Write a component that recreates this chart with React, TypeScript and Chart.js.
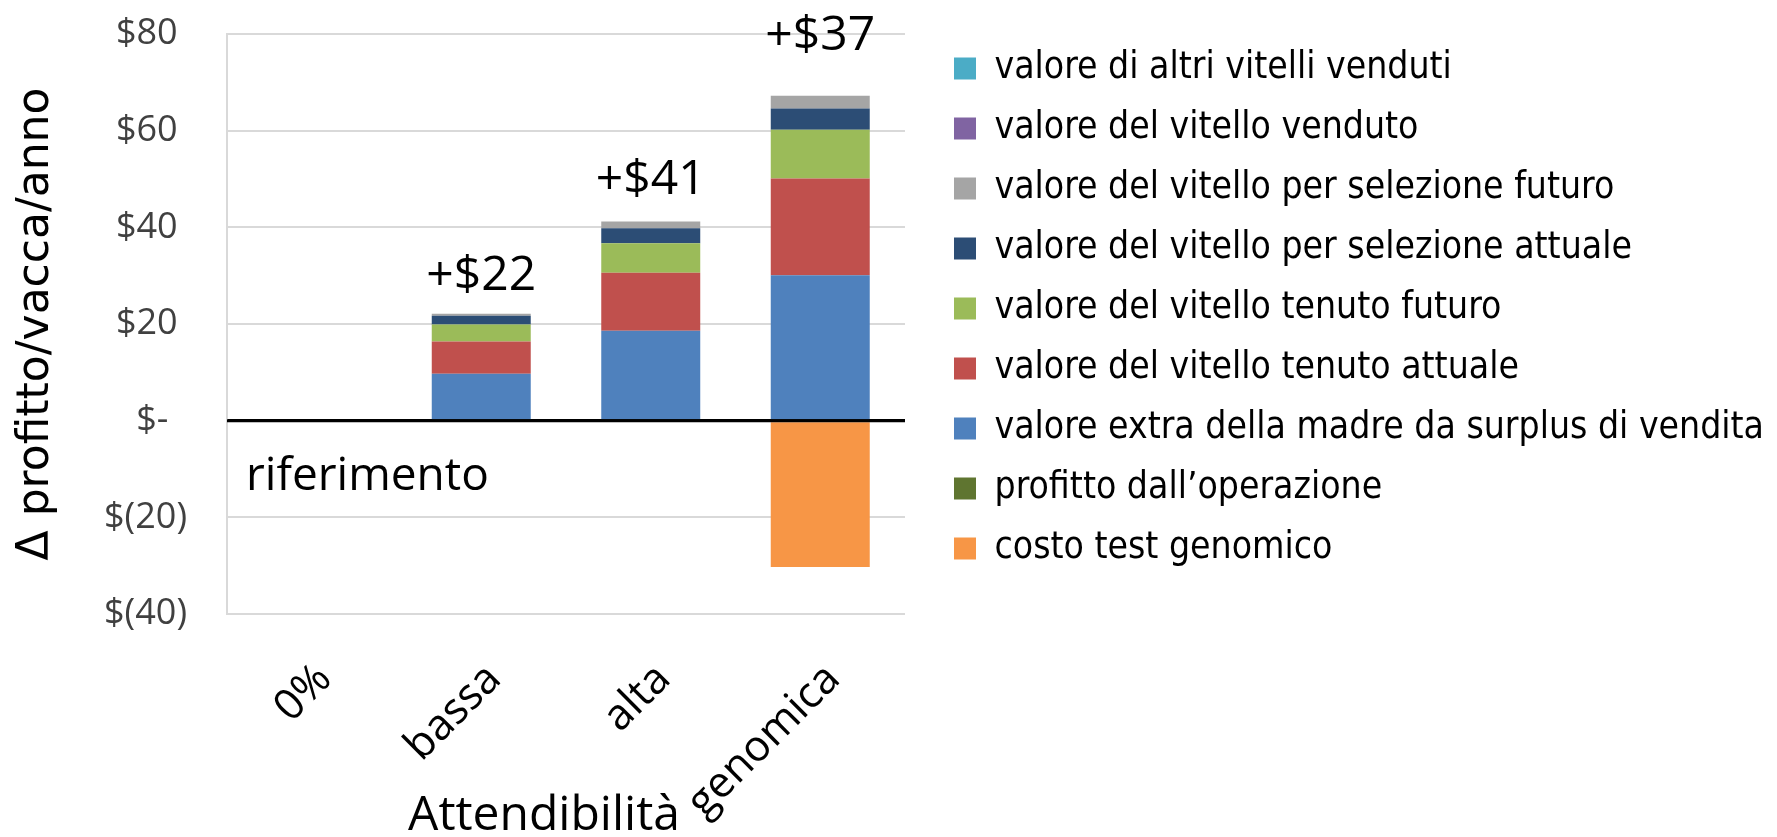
import React, { useEffect, useRef } from 'react';
import { Chart, registerables } from 'chart.js';

Chart.register(...registerables);

// ---------- data ----------
const categories = ['0%', 'bassa', 'alta', 'genomica'];

const costoTestGenomico = [0, 0, 0, -30.3];
const profittoOperazione = [0, 0, 0, 0];
const valoreExtraMadre = [0, 9.7, 18.6, 30.1];
const vitelloTenutoAttuale = [0, 6.7, 12.0, 20.0];
const vitelloTenutoFuturo = [0, 3.5, 6.1, 10.1];
const vitelloSelezioneAttuale = [0, 1.8, 3.1, 4.4];
const vitelloSelezioneFuturo = [0, 0.4, 1.4, 2.6];
const vitelloVenduto = [0, 0, 0, 0];
const altriVitelliVenduti = [0, 0, 0, 0];

const totalLabels = ['', '+$22', '+$41', '+$37'];
const totalLabelValues: (number | null)[] = [null, 27.0, 47.0, 76.6];

const referenceLabel = 'riferimento';
const referenceLabelValue = -14.4;

const yMin = -40;
const yMax = 80;
const yStep = 20;

const yTitle = 'Δ profitto/vacca/anno';
const xTitle = 'Attendibilità';

// ---------- helpers ----------
const formatDollar = (v: number) => {
  if (v === 0) return '$-  ';
  if (v < 0) return `$(${Math.abs(v)})`;
  return `$${v} `;
};

const annotationPlugin = {
  id: 'annotations',
  afterDatasetsDraw(chart: any) {
    const { ctx, chartArea, scales } = chart;
    const x = scales.x;
    const y = scales.y;
    ctx.save();
    // zero line on top of bars
    const y0 = y.getPixelForValue(0);
    ctx.strokeStyle = '#000';
    ctx.lineWidth = 3;
    ctx.beginPath();
    ctx.moveTo(chartArea.left, y0);
    ctx.lineTo(chartArea.right, y0);
    ctx.stroke();

    ctx.fillStyle = '#000';
    ctx.font = '48px "Open Sans"';
    ctx.textAlign = 'center';
    ctx.textBaseline = 'alphabetic';
    totalLabels.forEach((t, i) => {
      const v = totalLabelValues[i];
      if (!t || v === null) return;
      ctx.fillText(t, x.getPixelForValue(i), y.getPixelForValue(v));
    });

    ctx.font = '46px "Open Sans"';
    ctx.textAlign = 'left';
    ctx.fillText(referenceLabel, chartArea.left + 19, y.getPixelForValue(referenceLabelValue));

    // x axis title, centred a little left of the plot centre as in the original
    ctx.font = '48px "Open Sans"';
    ctx.textAlign = 'center';
    ctx.fillText(xTitle, (chartArea.left + chartArea.right) / 2 - 22, x.bottom - 7);
    ctx.restore();
  },
};

const legendWidthPlugin = {
  id: 'legendWidth',
  beforeLayout(chart: any) {
    const lg = chart.legend;
    if (lg && !lg.__patched) {
      const orig = lg.fit;
      lg.fit = function () {
        orig.call(this);
        this.width = 846;
      };
      lg.__patched = true;
    }
  },
};

export default function App() {
  const canvasRef = useRef<HTMLCanvasElement | null>(null);

  useEffect(() => {
    if (!canvasRef.current) return;
    const mk = (label: string, data: number[], color: string) => ({
      label,
      data,
      backgroundColor: color,
      borderColor: color,
      borderWidth: 0,
      yAxisID: 'y',
      xAxisID: 'x',
    });

    const chart = new Chart(canvasRef.current, {
      type: 'bar',
      data: {
        labels: categories,
        datasets: [
          mk('costo test genomico', costoTestGenomico, '#F79646'),
          mk('profitto dall’operazione', profittoOperazione, '#5F7530'),
          mk('valore extra della madre da surplus di vendita', valoreExtraMadre, '#4F81BD'),
          mk('valore del vitello tenuto attuale', vitelloTenutoAttuale, '#C0504D'),
          mk('valore del vitello tenuto futuro', vitelloTenutoFuturo, '#9BBB59'),
          mk('valore del vitello per selezione attuale', vitelloSelezioneAttuale, '#2C4D75'),
          mk('valore del vitello per selezione futuro', vitelloSelezioneFuturo, '#A5A5A5'),
          mk('valore del vitello venduto', vitelloVenduto, '#8064A2'),
          mk('valore di altri vitelli venduti', altriVitelliVenduti, '#4BACC6'),
        ],
      },
      options: {
        responsive: false,
        animation: false,
        datasets: {
          bar: { categoryPercentage: 1, barPercentage: 0.584 },
        },
        layout: { padding: { top: 27, left: 0, right: 0, bottom: 0 } },
        plugins: {
          tooltip: { enabled: false },
          legend: {
            position: 'right',
            align: 'start',
            reverse: true,
            maxWidth: 846,
            labels: {
              boxWidth: 22,
              boxHeight: 22,
              padding: 23,
              color: '#000',
              font: { family: "'DejaVu Sans Condensed', 'DejaVu Sans', sans-serif", size: 37 },
            },
          },
        },
        scales: {
          x: {
            stacked: true,
            grid: { display: false },
            border: { display: false },
            ticks: {
              autoSkip: false,
              minRotation: 45,
              maxRotation: 45,
              padding: 35,
              labelOffset: 13,
              color: '#000',
              font: { family: "'Open Sans', sans-serif", size: 43, lineHeight: 1 },
            },
            title: { display: false, text: xTitle },
            afterFit(scale: any) {
              scale.height = 223;
              scale.paddingLeft = 0;
              scale.paddingRight = 0;
            },
          },
          y: {
            stacked: true,
            position: 'left',
            min: yMin,
            max: yMax,
            grid: {
              drawTicks: false,
              color: (c: any) => (c.tick && c.tick.value === 0 ? '#000' : '#d9d9d9'),
              lineWidth: (c: any) => (c.tick && c.tick.value === 0 ? 3 : 2),
            },
            border: { display: true, color: '#d9d9d9', width: 2 },
            ticks: {
              stepSize: yStep,
              padding: 40,
              color: '#404040',
              font: { family: "'Open Sans', sans-serif", size: 36 },
              callback: (v: any) => formatDollar(Number(v)),
            },
            title: {
              display: true,
              text: yTitle,
              color: '#000',
              font: { family: "'DejaVu Sans', sans-serif", size: 44, lineHeight: 1 },
              padding: { top: 15, bottom: 0 },
            },
            afterFit(scale: any) {
              scale.width = 227;
              scale.paddingTop = 34;
              scale.paddingBottom = 0;
            },
          },
          spacer: {
            type: 'linear',
            position: 'right',
            display: true,
            grid: { display: false },
            border: { display: false },
            ticks: { display: false },
            afterFit(scale: any) {
              scale.width = 26;
              scale.paddingTop = 0;
              scale.paddingBottom = 0;
            },
          },
        },
      } as any,
      plugins: [annotationPlugin, legendWidthPlugin],
    });
    return () => chart.destroy();
  }, []);

  return (
    <div style={{ position: 'fixed', left: 0, top: 0, width: 1777, height: 837, background: '#fff' }}>
      <canvas ref={canvasRef} width={1777} height={837} style={{ display: 'block' }} />
    </div>
  );
}
